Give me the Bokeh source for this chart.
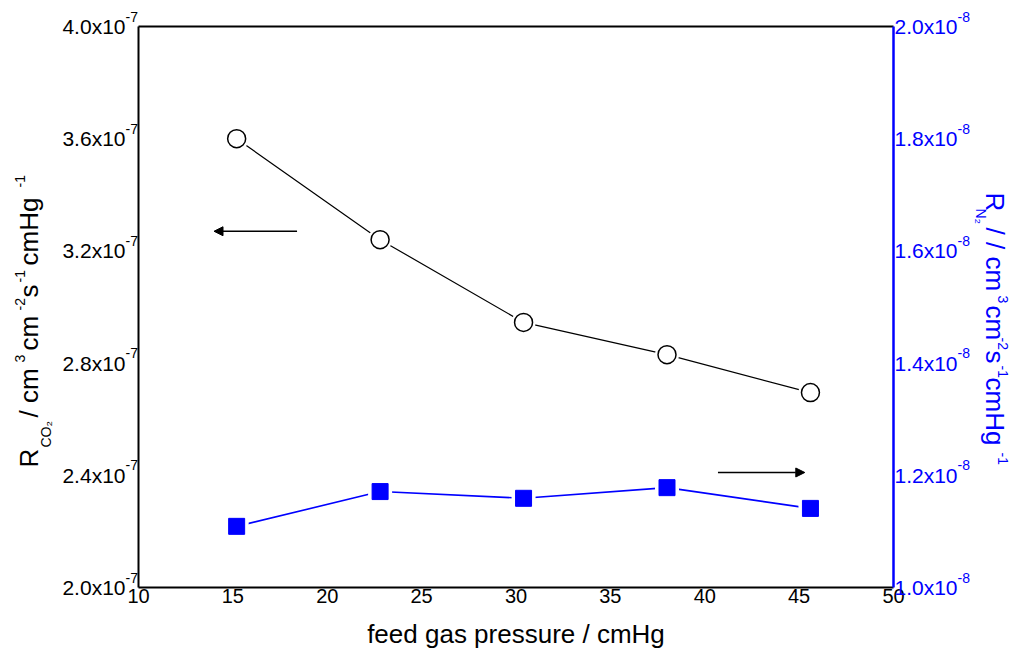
import math
from bokeh.plotting import figure
from bokeh.models import (Range1d, LinearAxis, Arrow, NormalHead, ColumnDataSource,
                          FixedTicker, CustomJSTickFormatter)
from bokeh.core.properties import value
from bokeh.embed import file_html
from bokeh.resources import INLINE

# ---------------- data ----------------
pressure = [15.2, 22.8, 30.4, 38.0, 45.6]
r_co2 = [3.60e-7, 3.24e-7, 2.945e-7, 2.83e-7, 2.695e-7]
r_n2 = [1.109e-8, 1.171e-8, 1.159e-8, 1.178e-8, 1.141e-8]

x_ticks = [10, 15, 20, 25, 30, 35, 40, 45, 50]
x_tick_text = ["10", "15", "20", "25", "30", "35", "40", "45", "50"]
left_ticks = [2.0e-7, 2.4e-7, 2.8e-7, 3.2e-7, 3.6e-7, 4.0e-7]
left_tick_text = ["2.0x10", "2.4x10", "2.8x10", "3.2x10", "3.6x10", "4.0x10"]
left_exp = "-7"
right_ticks = [1.0e-8, 1.2e-8, 1.4e-8, 1.6e-8, 1.8e-8, 2.0e-8]
right_tick_text = ["1.0x10", "1.2x10", "1.4x10", "1.6x10", "1.8x10", "2.0x10"]
right_exp = "-8"

x_title = "feed gas pressure / cmHg"
left_title = ["R", "CO₂", "/ cm", "3", "cm", "-2", "s", "-1", "cmHg", "-1"]
left_kind = ["base", "sub", "base", "sup", "base", "sup", "base", "sup", "base", "sup"]
right_title = ["R", "N₂", "/ / cm", "3", "cm", "-2", "s", "-1", "cmHg", "-1"]
right_kind = ["base", "sub", "base", "sup", "base", "sup", "base", "sup", "base", "sup"]

# arrows: (x_start, x_end, y)
left_arrow = (18.4, 14.0, 3.27e-7)
right_arrow = (40.7, 45.3, 1.205e-8)

X_RANGE = (10, 50)
YL_RANGE = (2.0e-7, 4.0e-7)
YR_RANGE = (1.0e-8, 2.0e-8)

FONT = "Liberation Sans"
BLUE = "#0000FF"

p = figure(width=1016, height=658, x_range=Range1d(*X_RANGE), y_range=Range1d(*YL_RANGE),
           toolbar_location=None, output_backend="svg",
           min_border_left=138, min_border_right=123, min_border_top=26, min_border_bottom=71)
p.extra_y_ranges = {"r": Range1d(*YR_RANGE)}
p.xgrid.visible = False
p.ygrid.visible = False
p.outline_line_color = None
p.background_fill_color = "white"
p.border_fill_color = "white"


def lookup_formatter(tick_vals, tick_labels):
    return CustomJSTickFormatter(args=dict(tick_vals=tick_vals, tick_labels=tick_labels), code="""
        let best = 0;
        for (let i = 0; i < tick_vals.length; i++) {
            if (Math.abs(tick_vals[i] - tick) < Math.abs(tick_vals[best] - tick)) best = i;
        }
        return tick_labels[best];
    """)


def style_axis(ax, color="black", width=2, fs="21px"):
    ax.axis_line_color = color
    ax.axis_line_width = width
    ax.major_tick_line_color = None
    ax.minor_tick_line_color = None
    ax.major_tick_out = 0
    ax.major_tick_in = 0
    ax.minor_tick_out = 0
    ax.minor_tick_in = 0
    ax.major_label_text_font = FONT
    ax.major_label_text_font_size = fs
    ax.major_label_text_color = color


# bottom axis
xa = p.xaxis[0]
xa.ticker = FixedTicker(ticks=x_ticks)
xa.formatter = lookup_formatter(x_ticks, x_tick_text)
style_axis(xa, fs="20px")
xa.major_label_standoff = 1
xa.axis_label = x_title
xa.axis_label_text_font = FONT
xa.axis_label_text_font_size = "26px"
xa.axis_label_text_font_style = "normal"
xa.axis_label_text_color = "black"
xa.axis_label_standoff = 13

# left axis
ya = p.yaxis[0]
ya.ticker = FixedTicker(ticks=left_ticks)
ya.formatter = lookup_formatter(left_ticks, left_tick_text)
style_axis(ya)
ya.major_label_standoff = 13

# right axis (blue)
yr = LinearAxis(y_range_name="r")
yr.ticker = FixedTicker(ticks=right_ticks)
yr.formatter = lookup_formatter(right_ticks, right_tick_text)
style_axis(yr, color=BLUE, width=2.5)
yr.major_label_standoff = 1
p.add_layout(yr, "right")

# top frame line
top = LinearAxis(ticker=FixedTicker(ticks=[]))
style_axis(top)
p.add_layout(top, "above")

# series
src_c = ColumnDataSource(dict(x=pressure, y=r_co2))
src_n = ColumnDataSource(dict(x=pressure, y=r_n2))

p.line("x", "y", source=src_c, line_color="black", line_width=1.2)
p.scatter("x", "y", source=src_c, marker="circle", size=24, fill_color="white", line_color=None)
p.scatter("x", "y", source=src_c, marker="circle", size=18, fill_color="white",
          line_color="black", line_width=1.5)

p.line("x", "y", source=src_n, line_color=BLUE, line_width=1.6, y_range_name="r")
p.scatter("x", "y", source=src_n, marker="square", size=24, fill_color="white", line_color=None,
          y_range_name="r")
p.scatter("x", "y", source=src_n, marker="square", size=16, fill_color=BLUE, line_color=BLUE,
          y_range_name="r")

# arrows
p.add_layout(Arrow(end=NormalHead(size=9, fill_color="black", line_color="black"),
                   x_start=left_arrow[0], y_start=left_arrow[2], x_end=left_arrow[1], y_end=left_arrow[2],
                   line_color="black", line_width=1.3))
p.add_layout(Arrow(end=NormalHead(size=9, fill_color="black", line_color="black"),
                   x_start=right_arrow[0], y_start=right_arrow[2], x_end=right_arrow[1], y_end=right_arrow[2],
                   line_color="black", line_width=1.3, y_range_name="r"))


def texts(xs, ys, strs, xos, yos, size, color="black", angle=0.0, y_range_name="default"):
    src = ColumnDataSource(dict(x=xs, y=ys, text=strs, xo=xos, yo=yos))
    p.text("x", "y", text="text", source=src, x_offset="xo", y_offset="yo",
           text_font=value(FONT), text_font_size=value(size), text_color=color,
           text_align="left", text_baseline="alphabetic", angle=angle,
           y_range_name=y_range_name, level="overlay")


# exponents of tick labels
n_l, n_r = len(left_ticks), len(right_ticks)
texts([X_RANGE[0]] * n_l, left_ticks, [left_exp] * n_l, [-13] * n_l, [-10] * n_l, "14px")
texts([X_RANGE[1]] * n_r, right_ticks, [right_exp] * n_r, [64] * n_r, [-10] * n_r, "14px",
      color=BLUE, y_range_name="r")

# rotated axis titles built from pieces
left_starts = [120, 140, 170, 225, 237, 277, 290, 305, 322, 400]
left_xo = {"base": -110, "sub": -93, "sup": -119}
right_starts = [395, 379, 360, 292, 282, 250, 237, 222, 210, 135]
right_xo = {"base": 101, "sub": 87, "sup": 109}

for kind, fs in (("base", "26px"), ("sub", "14px"), ("sup", "14px")):
    idx = [i for i, k in enumerate(left_kind) if k == kind]
    texts([X_RANGE[0]] * len(idx), [YL_RANGE[0]] * len(idx), [left_title[i] for i in idx],
          [left_xo[kind]] * len(idx), [-left_starts[i] for i in idx], fs, angle=math.pi / 2)
    idx = [i for i, k in enumerate(right_kind) if k == kind]
    texts([X_RANGE[1]] * len(idx), [YL_RANGE[0]] * len(idx), [right_title[i] for i in idx],
          [right_xo[kind]] * len(idx), [-right_starts[i] for i in idx], fs, color=BLUE,
          angle=-math.pi / 2)

open("out.html", "w").write(file_html(p, INLINE))
